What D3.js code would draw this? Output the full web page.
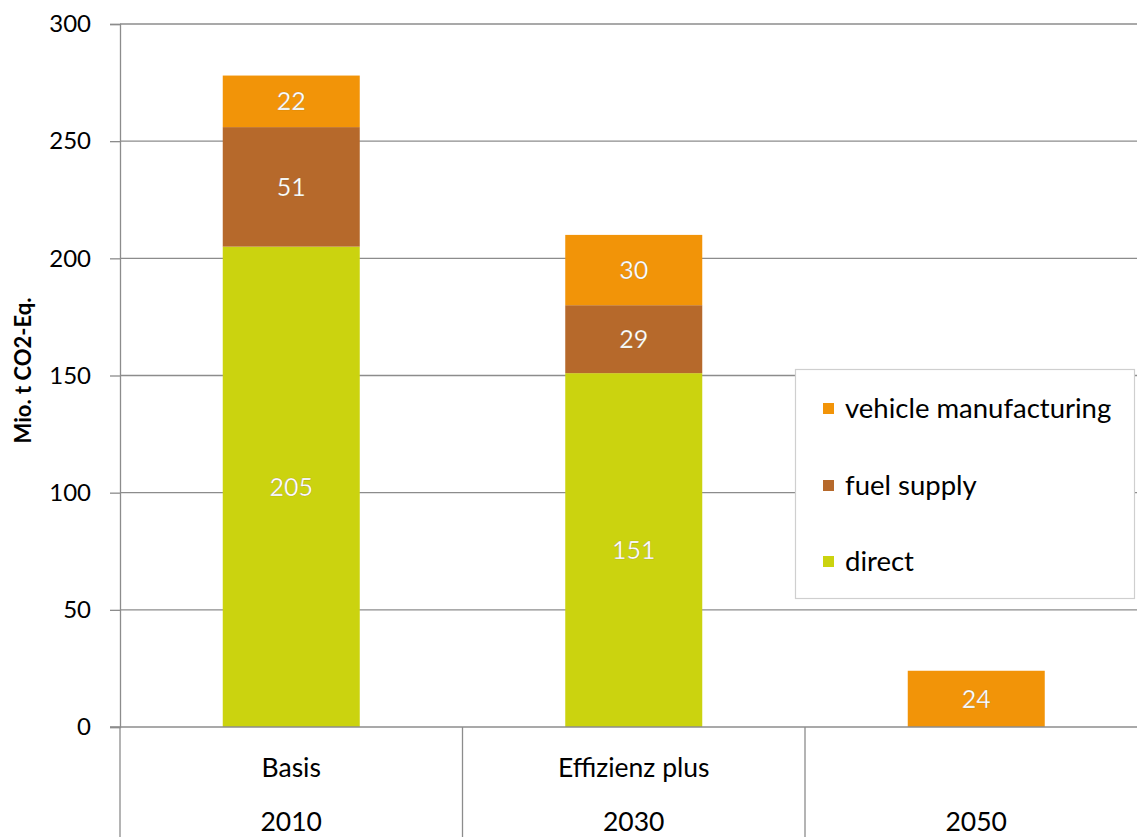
<!DOCTYPE html>
<html>
<head>
<meta charset="utf-8">
<script src="https://cdn.jsdelivr.net/npm/d3@7"></script>
<style>
  html, body { margin: 0; padding: 0; background: #fff; }
  svg { display: block; font-family: Lato, "Open Sans", sans-serif; }
</style>
</head>
<body>
<svg id="chart" width="1137" height="837"></svg>
<script>
// Scenario categories (scenario name + year)
const scenarios = ["Basis", "Effizienz plus", ""];
const years = ["2010", "2030", "2050"];

// Emission components, stacked bottom to top
const seriesNames = ["direct", "fuel supply", "vehicle manufacturing"];
const direct = [205, 151, 0];
const fuelSupply = [51, 29, 0];
const vehicleManufacturing = [22, 30, 24];

const yTicks = [0, 50, 100, 150, 200, 250, 300];
const yTitle = "Mio. t CO2-Eq.";

const colors = {
  "direct": "#cbd30f",
  "fuel supply": "#b6692b",
  "vehicle manufacturing": "#f29408"
};

const rows = years.map((yr, i) => ({
  key: yr,
  "direct": direct[i],
  "fuel supply": fuelSupply[i],
  "vehicle manufacturing": vehicleManufacturing[i]
}));

const svg = d3.select("#chart");
const plotLeft = 120, plotRight = 1147.5, plotTop = 24, plotBottom = 727;

const x = d3.scaleBand().domain(years).range([plotLeft, plotRight]).paddingInner(0).paddingOuter(0);
const y = d3.scaleLinear().domain([0, 300]).range([plotBottom, plotTop]);

// horizontal gridlines
svg.append("g").selectAll("line").data(yTicks.filter(t => t > 0)).join("line")
  .attr("x1", plotLeft).attr("x2", 1137)
  .attr("y1", d => y(d)).attr("y2", d => y(d))
  .attr("stroke", "#8c8c8c").attr("stroke-width", 1.3);

// y axis with outward ticks
const yAxis = svg.append("g").attr("transform", `translate(${plotLeft},0)`)
  .call(d3.axisLeft(y).tickValues(yTicks).tickSize(10).tickPadding(19));
yAxis.select(".domain").attr("stroke", "#8c8c8c").attr("stroke-width", 1.3);
yAxis.selectAll(".tick line").attr("stroke", "#8c8c8c").attr("stroke-width", 1.3);
yAxis.selectAll(".tick text").attr("font-size", 24).attr("fill", "#000")
  .attr("font-family", "Lato, 'Open Sans', sans-serif");

// y axis extends down through the category area
svg.append("line").attr("x1", plotLeft).attr("x2", plotLeft).attr("y1", plotBottom).attr("y2", 837)
  .attr("stroke", "#8c8c8c").attr("stroke-width", 1.3);

// stacked bars
const stack = d3.stack().keys(seriesNames)(rows);
const barW = x.bandwidth() * 0.4;
const g = svg.append("g");
stack.forEach(layer => {
  g.append("g").selectAll("rect").data(layer.filter(d => d[1] - d[0] > 0)).join("rect")
    .attr("x", d => x(d.data.key) + (x.bandwidth() - barW) / 2)
    .attr("width", barW)
    .attr("y", d => y(d[1]))
    .attr("height", d => y(d[0]) - y(d[1]))
    .attr("fill", colors[layer.key]);
});

// value labels
stack.forEach(layer => {
  g.append("g").selectAll("text").data(layer.filter(d => d[1] - d[0] > 0)).join("text")
    .attr("x", d => x(d.data.key) + x.bandwidth() / 2)
    .attr("y", d => y((d[0] + d[1]) / 2))
    .attr("dy", "0.35em")
    .attr("text-anchor", "middle")
    .attr("font-size", 25)
    .attr("fill", "#fff")
    .attr("stroke", "rgba(120,80,20,0.35)").attr("stroke-width", 0.6)
    .text(d => d[1] - d[0]);
});

// x axis baseline
svg.append("line").attr("x1", 110).attr("x2", 1137).attr("y1", plotBottom).attr("y2", plotBottom)
  .attr("stroke", "#8c8c8c").attr("stroke-width", 1.3);

// category separators
svg.append("g").selectAll("line").data(years.slice(1)).join("line")
  .attr("x1", d => x(d)).attr("x2", d => x(d)).attr("y1", plotBottom).attr("y2", 837)
  .attr("stroke", "#8c8c8c").attr("stroke-width", 1.3);

// scenario names and years
svg.append("g").selectAll("text").data(years).join("text")
  .attr("x", d => x(d) + x.bandwidth() / 2).attr("y", 768).attr("dy", "0.35em")
  .attr("text-anchor", "middle").attr("font-size", 26.5).attr("fill", "#000")
  .text((d, i) => scenarios[i]);
svg.append("g").selectAll("text").data(years).join("text")
  .attr("x", d => x(d) + x.bandwidth() / 2).attr("y", 822).attr("dy", "0.35em")
  .attr("text-anchor", "middle").attr("font-size", 26.5).attr("fill", "#000")
  .text(d => d);

// y axis title
svg.append("text")
  .attr("transform", `translate(31,${(plotTop + plotBottom) / 2 - 5}) rotate(-90)`)
  .attr("text-anchor", "middle").attr("font-size", 22).attr("font-weight", "bold")
  .attr("fill", "#000").text(yTitle);

// legend
const lg = svg.append("g");
lg.append("rect").attr("x", 795.5).attr("y", 369.5).attr("width", 339).attr("height", 229)
  .attr("fill", "#fff").attr("stroke", "#cfcfcf").attr("stroke-width", 1.2);
const legendItems = seriesNames.slice().reverse();
const legendY = [408, 485, 561];
legendItems.forEach((name, i) => {
  lg.append("rect").attr("x", 823).attr("y", legendY[i] - 5).attr("width", 11).attr("height", 11)
    .attr("fill", colors[name]);
  lg.append("text").attr("x", 845).attr("y", legendY[i]).attr("dy", "0.35em")
    .attr("font-size", 27.5).attr("fill", "#000").text(name);
});
</script>
</body>
</html>
